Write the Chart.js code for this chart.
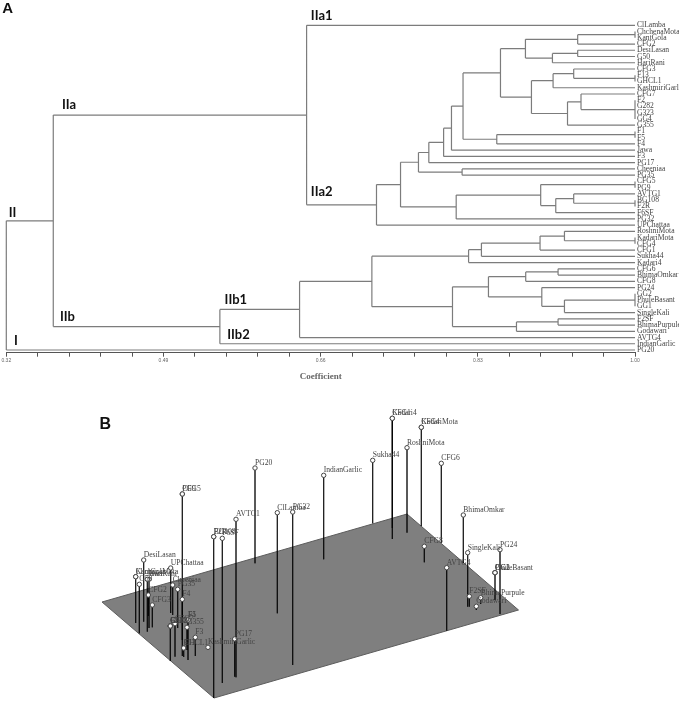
<!DOCTYPE html>
<html>
<head>
<meta charset="utf-8">
<script src="https://cdn.jsdelivr.net/npm/chart.js@4"></script>
<style>
  body { margin: 0; background: #fff; }
  canvas { position: absolute; left: 0; filter: blur(0.3px); }
  #treeChart { top: 0; }
  #plotChart { top: 390px; }
</style>
</head>
<body>
<canvas id="treeChart" width="679" height="390"></canvas>
<canvas id="plotChart" width="679" height="319"></canvas>
<script>
// Panel A: dendrogram
const leaves = ['ClLamba', 'ChchenaMota', 'KantGola', 'CFG2', 'DesiLasan', 'G50', 'HariRani', 'CFG3', 'F13', 'GHCL1',
  'KashmiriGarli', 'CFG7', 'F2', 'G282', 'G323', 'GG4', 'G355', 'F1', 'F5', 'F4', 'Jawa', 'F3', 'PG17', 'Cheeniaa',
  'PG35', 'CFG5', 'PG9', 'AVTG1', 'BG108', 'F2R', 'F6SF', 'PG32', 'UPChattaa', 'RoshniMota', 'KadariMota', 'CFG4',
  'CFG1', 'Sukha44', 'Kadari4', 'CFG6', 'BhimaOmkar', 'CFG8', 'PG24', 'GG2', 'PhuleBasant', 'GG1', 'SingleKali',
  'F2SF', 'BhimaPurpule', 'Godawari', 'AVTG4', 'IndianGarlic', 'PG20'];

// each node: [coefficient, child, child, ...]
const clusterIIa2 = [0.7204, [0.7464, [0.7658, [0.777, [0.793, [0.8015, [0.814,
  [0.8545,
    [0.8815, [0.938, [1, 'ChchenaMota', 'KantGola'], 'CFG2'], [0.9107, [0.938, 'DesiLasan', 'G50'], 'HariRani']],
    [0.888, [0.9114, [0.9337, 'CFG3', [1, 'F13', 'GHCL1']], 'KashmiriGarli'],
      [0.927, [0.9416, 'CFG7', [1, 'F2', 'G282', 'G323', 'GG4']], 'G355']]],
  [0.8505, [1, 'F1', 'F5'], 'F4']], 'Jawa'], 'F3'], 'PG17'], [0.813, 'Cheeniaa', 'PG35']],
  [0.8066, [0.898, [1, 'CFG5', 'PG9'], [0.9143, [0.9337, 'AVTG1', [1, 'BG108', 'F2R']], 'F6SF']], 'PG32']], 'UPChattaa'];
const clusterIIb1 = [0.6372, [0.7154,
  [0.82, [0.8339, [0.8973, [0.9237, 'RoshniMota', [1, 'KadariMota', 'CFG4']], 'CFG1'], 'Sukha44'], 'Kadari4'],
  [0.8026,
    [0.8415, [0.8818, [0.9168, 'CFG6', 'BhimaOmkar'], 'CFG8'],
      [0.8992, 'PG24', [0.9237, [1, 'GG2', 'PhuleBasant', 'GG1'], 'SingleKali']]],
    [0.8718, [0.9168, 'F2SF', 'BhimaPurpule'], 'Godawari']]], 'AVTG4'];
const tree = [0.32, [0.3708, [0.6448, 'ClLamba', clusterIIa2], [0.551, clusterIIb1, 'IndianGarlic']], 'PG20'];

const coefLabels = ['0.32', '0.49', '0.66', '0.83', '1.00'];
const groupNames = ['A', 'IIa1', 'IIa', 'IIa2', 'II', 'IIb', 'IIb1', 'IIb2', 'I'];
const groupCoef = [0.3157, 0.6494, 0.3802, 0.6494, 0.3226, 0.3780, 0.5561, 0.5589, 0.3283];
const groupRow = [-2.66, -1.55, 12.7, 26.7, 30.1, 46.7, 43.9, 49.5, 50.5];

// Panel B: projected 3D plot, one entry per accession
const planeX = [102, 214, 518.5, 407, 102];
const planeY = [602, 698, 610, 514, 602];
const pointNames = ['Kadari4', 'CFG1', 'KadariMota', 'CFG4', 'RoshniMota', 'Sukha44', 'CFG6', 'IndianGarlic', 'PG32',
  'ClLamba', 'PG20', 'AVTG1', 'BG108', 'F2R', 'F6SF', 'CFG5', 'PG9', 'DesiLasan', 'UPChattaa', 'ChchenaMota', 'KantGola',
  'G50', 'HariRani', 'CFG2', 'CFG3', 'Cheeniaa', 'PG35', 'F4', 'F1', 'F5', 'G355', 'F2', 'G282', 'G323', 'GG4', 'CFG7',
  'F3', 'F13', 'GHCL1', 'KashmiriGarlic', 'PG17', 'CFG8', 'BhimaOmkar', 'SingleKali', 'PG24', 'GG2', 'GG1', 'PhuleBasant',
  'AVTG4', 'F2SF', 'BhimaPurpule', 'Godawari', 'Jawa'];
const pointX = [392.3, 392.3, 421.3, 421.3, 407, 372.7, 441.3, 323.7, 292.7,
  277.3, 255, 236, 213.7, 213.7, 222.3, 182.3, 182.3, 143.7, 170.7, 135.7, 135.7,
  139.3, 149, 148.3, 152.3, 172.7, 177.7, 182.3, 188, 188, 187, 170.3, 170.3, 170.3, 170.3, 175,
  195.3, 183.7, 183.7, 208, 234.7, 424.3, 463.3, 467.7, 500, 495, 495, 495,
  446.7, 469.3, 480.7, 476.3, 147.3];
const pointTop = [418.3, 418.3, 427.3, 427.3, 447.7, 460.3, 463.3, 475.3, 512,
  512.7, 468, 519.3, 536.7, 536.7, 538.3, 494, 494, 560, 568, 576.7, 576.7,
  584.3, 579.3, 595, 605, 585, 589.3, 599.3, 620, 620, 627.3, 626, 626, 626, 626, 623.7,
  637.3, 648, 648, 647.3, 639, 546.3, 515, 552.7, 549.7, 572.7, 572.7, 572.7,
  567.7, 596.3, 597.7, 606.3, 579.3];
const pointBase = [539, 528, 526, 526, 532.7, 523.3, 543, 559.3, 665,
  613.3, 563.3, 677.3, 698, 698, 683, 656, 656, 621.7, 613, 623, 623,
  633.3, 628, 616, 627.3, 615, 628, 640, 660, 660, 650, 661, 661, 661, 661, 656.7,
  656, 657, 657, 650, 676.7, 562.3, 563, 606.7, 614, 600, 600, 600,
  630.7, 606.7, 604, 610, 631.7];

const lineGrey = '#7c7c7c';
const labelFont = '7.6px "Liberation Serif"';

function rowOf(node) {
  if (typeof node === 'string') return leaves.indexOf(node);
  return (rowOf(node[1]) + rowOf(node[node.length - 1])) / 2;
}
function coefOf(node) {
  return typeof node === 'string' ? 1 : node[0];
}

// walk the tree and collect the elbows, NaN breaks the line
const treeLines = [];
function addNode(node) {
  if (typeof node === 'string') return;
  const kids = node.slice(1);
  treeLines.push({x: node[0], y: rowOf(kids[0])}, {x: node[0], y: rowOf(kids[kids.length - 1])}, {x: NaN, y: NaN});
  kids.forEach(kid => {
    treeLines.push({x: node[0], y: rowOf(kid)}, {x: coefOf(kid), y: rowOf(kid)}, {x: NaN, y: NaN});
    addNode(kid);
  });
}
addNode(tree);

const groupLabelPlugin = {
  id: 'groupLabels',
  afterDatasetsDraw(chart) {
    const {ctx, scales} = chart;
    ctx.save();
    ctx.fillStyle = '#111';
    ctx.textBaseline = 'middle';
    groupNames.forEach((name, i) => {
      ctx.font = name === 'A' ? 'bold 15px "Liberation Sans"' : 'bold 13px Lato';
      ctx.fillText(name, scales.x.getPixelForValue(groupCoef[i]), scales.y.getPixelForValue(groupRow[i]));
    });
    ctx.restore();
  }
};

new Chart(document.getElementById('treeChart'), {
  type: 'scatter',
  data: {
    datasets: [{
      data: treeLines,
      showLine: true,
      spanGaps: false,
      borderColor: lineGrey,
      borderWidth: 1.2,
      pointRadius: 0,
      clip: false
    }]
  },
  options: {
    responsive: false,
    animation: false,
    layout: { autoPadding: false, padding: { left: 6.3, top: 5.9, right: 0, bottom: 0 } },
    plugins: { legend: { display: false }, tooltip: { enabled: false } },
    scales: {
      x: {
        min: 0.32,
        max: 1,
        afterFit: scale => { scale.height = 37.3; },
        border: { color: '#555' },
        grid: { drawOnChartArea: false, tickLength: 4, color: '#555' },
        ticks: {
          stepSize: 0.034,
          autoSkip: false,
          maxRotation: 0,
          padding: 1,
          color: '#666',
          font: { family: 'Liberation Sans', size: 5 },
          callback: (value, i) => (i % 5 === 0 ? coefLabels[i / 5] : '')
        },
        title: {
          display: true,
          text: 'Coefficient',
          color: '#666',
          padding: { top: 0, bottom: 8 },
          font: { family: 'Liberation Serif', size: 9, weight: 'bold' }
        }
      },
      y: {
        position: 'right',
        reverse: true,
        min: -3,
        max: 52.43,
        afterFit: scale => { scale.width = 44; },
        border: { display: false },
        grid: { display: false, drawTicks: false },
        ticks: {
          stepSize: 1,
          includeBounds: false,
          autoSkip: false,
          padding: 2,
          color: '#444',
          font: { family: 'Liberation Serif', size: 7.6 },
          callback: value => leaves[value]
        }
      }
    }
  },
  plugins: [groupLabelPlugin]
});

const planePoints = planeX.map((x, i) => ({x: x, y: planeY[i]}));

// accessions at the same spot share one stem, otherwise the alpha stacks up
const stemLines = [];
const stemsDone = new Set();
pointNames.forEach((name, i) => {
  const key = pointX[i] + '/' + pointTop[i] + '/' + pointBase[i];
  if (stemsDone.has(key)) return;
  stemsDone.add(key);
  stemLines.push({x: pointX[i], y: pointTop[i]}, {x: pointX[i], y: pointBase[i]}, {x: NaN, y: NaN});
});
const topPoints = pointNames.map((name, i) => ({x: pointX[i], y: pointTop[i]}));

const pointLabelPlugin = {
  id: 'pointLabels',
  afterDatasetsDraw(chart) {
    const {ctx, scales} = chart;
    ctx.save();
    ctx.fillStyle = '#444';
    ctx.font = labelFont;
    ctx.textBaseline = 'middle';
    pointNames.forEach((name, i) => {
      ctx.fillText(name, scales.x.getPixelForValue(pointX[i]), scales.y.getPixelForValue(pointTop[i] - 5.2));
    });
    ctx.fillStyle = '#111';
    ctx.font = 'bold 16px "Liberation Sans"';
    ctx.fillText('B', scales.x.getPixelForValue(99.5), scales.y.getPixelForValue(425));
    ctx.restore();
  }
};

new Chart(document.getElementById('plotChart'), {
  type: 'scatter',
  data: {
    datasets: [
      {
        data: planePoints,
        showLine: true,
        fill: 'shape',
        backgroundColor: '#7f7f7f',
        borderColor: '#5c5c5c',
        borderWidth: 1,
        pointRadius: 0,
        order: 3
      },
      {
        data: stemLines,
        showLine: true,
        spanGaps: false,
        borderColor: 'rgba(0,0,0,0.6)',
        borderWidth: 1,
        pointRadius: 0,
        order: 2
      },
      {
        data: topPoints,
        backgroundColor: '#fff',
        borderColor: '#444',
        borderWidth: 1,
        pointRadius: 2.2,
        order: 1
      }
    ]
  },
  options: {
    responsive: false,
    animation: false,
    layout: { autoPadding: false, padding: 0 },
    plugins: { legend: { display: false }, tooltip: { enabled: false } },
    scales: {
      x: { display: false, min: 0, max: 679 },
      y: { display: false, reverse: true, min: 390, max: 709 }
    }
  },
  plugins: [pointLabelPlugin]
});
</script>
</body>
</html>
